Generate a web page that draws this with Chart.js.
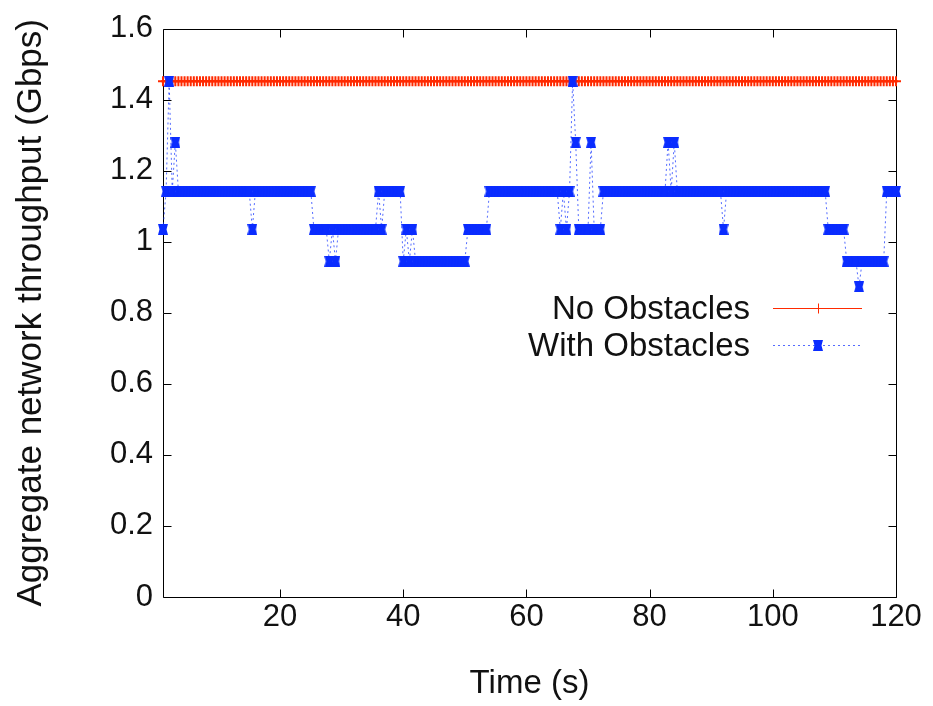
<!DOCTYPE html>
<html>
<head>
<meta charset="utf-8">
<title>Aggregate network throughput</title>
<script src="https://cdn.jsdelivr.net/npm/chart.js@4.4.1/dist/chart.umd.min.js"></script>
<style>
  html, body { margin: 0; padding: 0; background: #fff; }
  #wrap { width: 933px; height: 706px; }
</style>
</head>
<body>
<div id="wrap"><canvas id="chart" width="933" height="706"></canvas></div>
<script>
'use strict';

// samples every half second, starting at t = 1 s
const SAMPLE_START = 1;
const SAMPLE_STEP = 0.5;

const seriesNames = ['No Obstacles', 'With Obstacles'];
const xTicks = [20, 40, 60, 80, 100, 120];
const yTicks = [0, 0.2, 0.4, 0.6, 0.8, 1, 1.2, 1.4, 1.6];

// Gbps
const noObstacles = [
  1.452, 1.452, 1.452, 1.452, 1.452, 1.452, 1.452, 1.452, 1.452, 1.452, 1.452, 1.452, 1.452, 1.452, 1.452, 1.452, 1.452, 1.452, 1.452, 1.452,
  1.452, 1.452, 1.452, 1.452, 1.452, 1.452, 1.452, 1.452, 1.452, 1.452, 1.452, 1.452, 1.452, 1.452, 1.452, 1.452, 1.452, 1.452, 1.452, 1.452,
  1.452, 1.452, 1.452, 1.452, 1.452, 1.452, 1.452, 1.452, 1.452, 1.452, 1.452, 1.452, 1.452, 1.452, 1.452, 1.452, 1.452, 1.452, 1.452, 1.452,
  1.452, 1.452, 1.452, 1.452, 1.452, 1.452, 1.452, 1.452, 1.452, 1.452, 1.452, 1.452, 1.452, 1.452, 1.452, 1.452, 1.452, 1.452, 1.452, 1.452,
  1.452, 1.452, 1.452, 1.452, 1.452, 1.452, 1.452, 1.452, 1.452, 1.452, 1.452, 1.452, 1.452, 1.452, 1.452, 1.452, 1.452, 1.452, 1.452, 1.452,
  1.452, 1.452, 1.452, 1.452, 1.452, 1.452, 1.452, 1.452, 1.452, 1.452, 1.452, 1.452, 1.452, 1.452, 1.452, 1.452, 1.452, 1.452, 1.452, 1.452,
  1.452, 1.452, 1.452, 1.452, 1.452, 1.452, 1.452, 1.452, 1.452, 1.452, 1.452, 1.452, 1.452, 1.452, 1.452, 1.452, 1.452, 1.452, 1.452, 1.452,
  1.452, 1.452, 1.452, 1.452, 1.452, 1.452, 1.452, 1.452, 1.452, 1.452, 1.452, 1.452, 1.452, 1.452, 1.452, 1.452, 1.452, 1.452, 1.452, 1.452,
  1.452, 1.452, 1.452, 1.452, 1.452, 1.452, 1.452, 1.452, 1.452, 1.452, 1.452, 1.452, 1.452, 1.452, 1.452, 1.452, 1.452, 1.452, 1.452, 1.452,
  1.452, 1.452, 1.452, 1.452, 1.452, 1.452, 1.452, 1.452, 1.452, 1.452, 1.452, 1.452, 1.452, 1.452, 1.452, 1.452, 1.452, 1.452, 1.452, 1.452,
  1.452, 1.452, 1.452, 1.452, 1.452, 1.452, 1.452, 1.452, 1.452, 1.452, 1.452, 1.452, 1.452, 1.452, 1.452, 1.452, 1.452, 1.452, 1.452, 1.452,
  1.452, 1.452, 1.452, 1.452, 1.452, 1.452, 1.452, 1.452, 1.452, 1.452, 1.452, 1.452, 1.452, 1.452, 1.452, 1.452, 1.452, 1.452, 1.452
];

// Gbps, one row per 5 s
const withObstacles = [
  1.035, 1.142, 1.452, 1.142, 1.28, 1.142, 1.142, 1.142, 1.142, 1.142,
  1.142, 1.142, 1.142, 1.142, 1.142, 1.142, 1.142, 1.142, 1.142, 1.142,
  1.142, 1.142, 1.142, 1.142, 1.142, 1.142, 1.142, 1.142, 1.142, 1.035,
  1.142, 1.142, 1.142, 1.142, 1.142, 1.142, 1.142, 1.142, 1.142, 1.142,
  1.142, 1.142, 1.142, 1.142, 1.142, 1.142, 1.142, 1.142, 1.142, 1.035,
  1.035, 1.035, 1.035, 1.035, 0.945, 1.035, 0.945, 1.035, 1.035, 1.035,
  1.035, 1.035, 1.035, 1.035, 1.035, 1.035, 1.035, 1.035, 1.035, 1.035,
  1.142, 1.035, 1.142, 1.142, 1.142, 1.142, 1.142, 1.142, 0.945, 1.035,
  0.945, 1.035, 0.945, 0.945, 0.945, 0.945, 0.945, 0.945, 0.945, 0.945,
  0.945, 0.945, 0.945, 0.945, 0.945, 0.945, 0.945, 0.945, 0.945, 1.035,
  1.035, 1.035, 1.035, 1.035, 1.035, 1.035, 1.142, 1.142, 1.142, 1.142,
  1.142, 1.142, 1.142, 1.142, 1.142, 1.142, 1.142, 1.142, 1.142, 1.142,
  1.142, 1.142, 1.142, 1.142, 1.142, 1.142, 1.142, 1.142, 1.142, 1.035,
  1.142, 1.035, 1.142, 1.452, 1.28, 1.035, 1.035, 1.035, 1.035, 1.28,
  1.035, 1.035, 1.035, 1.142, 1.142, 1.142, 1.142, 1.142, 1.142, 1.142,
  1.142, 1.142, 1.142, 1.142, 1.142, 1.142, 1.142, 1.142, 1.142, 1.142,
  1.142, 1.142, 1.142, 1.142, 1.28, 1.142, 1.28, 1.142, 1.142, 1.142,
  1.142, 1.142, 1.142, 1.142, 1.142, 1.142, 1.142, 1.142, 1.142, 1.142,
  1.142, 1.142, 1.035, 1.142, 1.142, 1.142, 1.142, 1.142, 1.142, 1.142,
  1.142, 1.142, 1.142, 1.142, 1.142, 1.142, 1.142, 1.142, 1.142, 1.142,
  1.142, 1.142, 1.142, 1.142, 1.142, 1.142, 1.142, 1.142, 1.142, 1.142,
  1.142, 1.142, 1.142, 1.142, 1.142, 1.142, 1.035, 1.035, 1.035, 1.035,
  1.035, 1.035, 0.945, 0.945, 0.945, 0.945, 0.873, 0.945, 0.945, 0.945,
  0.945, 0.945, 0.945, 0.945, 0.945, 1.142, 1.142, 1.142, 1.142
];

const times = withObstacles.map((_, i) => SAMPLE_START + i * SAMPLE_STEP);

const RED = '#ff2a00';
const BLUE = '#0a2cff';
const BLUE_LINE = 'rgba(10, 44, 255, 0.7)';
const TICK_LEN = 8;
const FONT = '"Liberation Sans", Arial, Helvetica, sans-serif';

Chart.defaults.font.family = FONT;
Chart.defaults.font.size = 31;
Chart.defaults.color = '#111';

// blue point: a filled box, pinched slightly at the sides
function makeStarMark(color) {
  const c = document.createElement('canvas');
  c.width = 10;
  c.height = 11;
  const g = c.getContext('2d');
  g.fillStyle = color;
  g.beginPath();
  g.moveTo(0, 0); g.lineTo(10, 0); g.lineTo(8.5, 5.5);
  g.lineTo(10, 11); g.lineTo(0, 11); g.lineTo(1.5, 5.5);
  g.closePath();
  g.fill();
  return c;
}
const starMark = makeStarMark(BLUE);

function drawPlus(ctx, x, y, r) {
  ctx.beginPath();
  ctx.moveTo(x - r, y); ctx.lineTo(x + r, y);
  ctx.moveTo(x, y - r); ctx.lineTo(x, y + r);
  ctx.stroke();
}

// box around the plot with inward ticks on all four sides
const framePlugin = {
  id: 'frame',
  beforeDatasetsDraw(chart) {
    const { ctx, chartArea: a, scales: { x, y } } = chart;
    const l = Math.round(a.left) + 0.5, r = Math.round(a.right) + 0.5;
    const t = Math.round(a.top) + 0.5, b = Math.round(a.bottom) + 0.5;
    ctx.save();
    ctx.strokeStyle = '#000';
    ctx.lineWidth = 1;
    ctx.beginPath();
    ctx.rect(l, t, r - l, b - t);
    for (const v of xTicks) {
      const px = Math.round(x.getPixelForValue(v)) + 0.5;
      ctx.moveTo(px, b); ctx.lineTo(px, b - TICK_LEN);
      ctx.moveTo(px, t); ctx.lineTo(px, t + TICK_LEN);
    }
    for (const v of yTicks) {
      const py = Math.round(y.getPixelForValue(v)) + 0.5;
      ctx.moveTo(l, py); ctx.lineTo(l + TICK_LEN, py);
      ctx.moveTo(r, py); ctx.lineTo(r - TICK_LEN, py);
    }
    ctx.stroke();
    ctx.restore();
  }
};

// key inside the plot: label on the left, line sample on the right
const keyPlugin = {
  id: 'key',
  afterDraw(chart) {
    const { ctx } = chart;
    const textRight = 750, lineL = 773, lineR = 862, mid = 818;
    ctx.save();
    ctx.font = '33px ' + FONT;
    ctx.fillStyle = '#111';
    ctx.textAlign = 'right';
    ctx.textBaseline = 'alphabetic';

    ctx.fillText(seriesNames[0], textRight, 319);
    ctx.strokeStyle = RED;
    ctx.lineWidth = 1;
    ctx.beginPath();
    ctx.moveTo(lineL, 308.5); ctx.lineTo(lineR, 308.5);
    ctx.stroke();
    drawPlus(ctx, mid + 0.5, 308.5, 5);

    ctx.fillText(seriesNames[1], textRight, 356);
    ctx.strokeStyle = BLUE_LINE;
    ctx.setLineDash([2, 3]);
    ctx.beginPath();
    ctx.moveTo(lineL, 345.5); ctx.lineTo(lineR, 345.5);
    ctx.stroke();
    ctx.setLineDash([]);
    ctx.drawImage(starMark, mid - starMark.width / 2, 345.5 - starMark.height / 2);
    ctx.restore();
  }
};

new Chart(document.getElementById('chart'), {
  type: 'line',
  data: {
    datasets: [{
      label: seriesNames[0],
      data: times.map((t, i) => ({ x: t, y: noObstacles[i] })),
      borderColor: RED,
      borderWidth: 1,
      pointStyle: 'cross',
      pointRadius: 5,
      pointBorderWidth: 2,
      pointBorderColor: RED,
      order: 1,
      clip: false
    },
    {
      label: seriesNames[1],
      data: times.map((t, i) => ({ x: t, y: withObstacles[i] })),
      borderColor: BLUE_LINE,
      borderWidth: 1,
      borderDash: [2, 3],
      pointStyle: starMark,
      pointRadius: 4,
      order: 0,
      clip: false
    }]
  },
  options: {
    responsive: false,
    devicePixelRatio: 1,
    animation: false,
    layout: { padding: { top: 22, right: 37, left: 0, bottom: 0 } },
    plugins: {
      legend: { display: false },
      tooltip: { enabled: false }
    },
    scales: {
      x: {
        type: 'linear',
        min: 1,
        max: 120,
        grid: { display: false, drawTicks: false },
        border: { display: false },
        afterBuildTicks: (scale) => { scale.ticks = xTicks.map(v => ({ value: v })); },
        afterFit: (scale) => { scale.height = 109; },
        ticks: { padding: 2, maxRotation: 0, autoSkip: false },
        title: { display: true, text: 'Time (s)', font: { size: 33 }, padding: { top: 0, bottom: 2 } }
      },
      y: {
        min: 0,
        max: 1.6,
        grid: { display: false, drawTicks: false },
        border: { display: false },
        afterBuildTicks: (scale) => { scale.ticks = yTicks.map(v => ({ value: v })); },
        afterFit: (scale) => { scale.width = 163; },
        ticks: {
          padding: 10,
          callback: (v) => String(+v.toFixed(1))
        },
        title: {
          display: true,
          text: 'Aggregate network throughput (Gbps)',
          font: { size: 35 },
          padding: { top: 10, bottom: 0 }
        }
      }
    }
  },
  plugins: [framePlugin, keyPlugin]
});
</script>
</body>
</html>
